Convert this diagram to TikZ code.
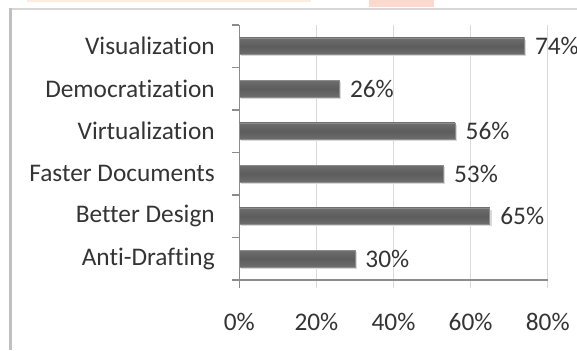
\documentclass[tikz,border=0pt]{standalone}
\usepackage{fontspec}
\setmainfont{Carlito}[Ligatures=NoCommon]
\definecolor{txtgray}{RGB}{52,52,52}
\definecolor{gridgray}{RGB}{217,217,217}
\definecolor{axisgray}{RGB}{140,140,140}
\definecolor{bordergray}{RGB}{192,192,192}
\definecolor{frametop}{RGB}{215,215,215}
\definecolor{bardark}{RGB}{92,92,92}
\definecolor{barlight}{RGB}{110,110,110}
\definecolor{baredge}{RGB}{140,140,140}
\definecolor{wmpeach}{RGB}{253,236,224}
\definecolor{wmpink}{RGB}{252,216,206}
\tikzset{
  chartfont/.style={font=\fontsize{19}{22}\selectfont, text=txtgray, inner sep=0.75pt},
  barbox/.style={draw=baredge, line width=0.6, top color=barlight, bottom color=barlight, middle color=bardark},
}
\begin{document}
\begin{tikzpicture}[x=0.75pt,y=0.75pt,yscale=-1,xscale=1]
\useasboundingbox (0,0) rectangle (577,350);

%Shape: cut-off banner remnants
\fill [wmpeach] (27,0) rectangle (311,1.5) ;
\fill [wmpink] (369,0) rectangle (434,7) ;
%Shape: chart frame
\draw [frametop, line width=1.5] (9,8.5) -- (577,8.5) ;
\draw [bordergray, line width=2.6] (10.6,7.8) -- (10.6,350) ;

%Straight Lines: gridlines
\foreach \g in {1,...,4}
  \draw [gridgray, line width=0.9] (239.3+77.1*\g,25) -- (239.3+77.1*\g,288) ;
%Straight Lines: axes
\draw [axisgray, line width=0.9] (239.3,25) -- (239.3,288) ;
\draw [axisgray, line width=0.9] (231.7,280) -- (547.7,280) ;
\foreach \k in {0,...,5}
  \draw [axisgray, line width=0.9] (231.7,25+42.5*\k) -- (239.3,25+42.5*\k) ;

% Text Node: tick labels
\foreach \g in {0,...,4}
  \draw (239.3+77.1*\g,322) node [chartfont] (tick\g) {\the\numexpr20*\g\relax\%} ;

%Shape: bars with labels
\foreach \lab/\val [count=\i] in {Visualization/74, Democratization/26, Virtualization/56, Faster Documents/53, Better Design/65, Anti-Drafting/30} {
  \fill [black!15] (240.8,25+42.5*\i-21.25-6.5) rectangle (241+3.855*\val,25+42.5*\i-21.25+9.8) ;
  \shade [barbox] (239.3,25+42.5*\i-21.25-8.3) rectangle (239.3+3.855*\val,25+42.5*\i-21.25+8.3) ;
  \draw (216,25+42.5*\i-21.25) node [chartfont, anchor=east] (cat\i) {\lab} ;
  \draw (248.5+3.855*\val,25+42.5*\i-21.25) node [chartfont, anchor=west] (val\i) {\val\%} ;
}

\end{tikzpicture}
\end{document}
